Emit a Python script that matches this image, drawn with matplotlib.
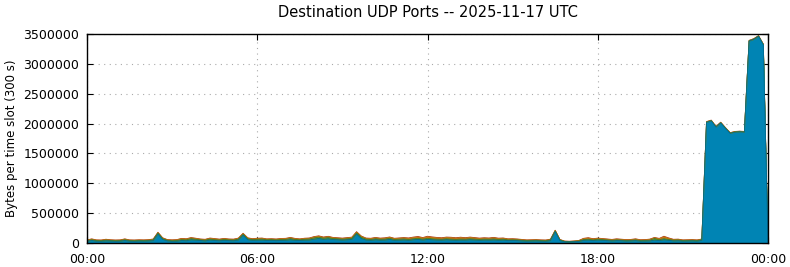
import matplotlib
matplotlib.use("Agg")
import matplotlib.pyplot as plt
import numpy as np

# bytes per slot in thousands, 10 minute slots from 00:00, last value at 24:00
blue = [30, 42, 30, 28, 36, 32, 28, 30, 42, 30, 28, 32,
        30, 34, 40, 150, 60, 35,
        28, 30, 42, 38, 55, 48,
        40, 35, 50, 42, 38, 45,
        40, 38, 50, 130, 55, 45,
        48, 50, 42, 45, 40, 44,
        46, 55, 45, 42, 48, 50,
        65, 75, 62, 70, 58, 55,
        50, 55, 60, 150, 75, 50,
        45, 55, 48, 50, 60, 45,
        48, 52, 45, 55, 60, 50,
        60, 55, 50, 48, 55, 50,
        45, 50, 48, 55, 50, 45,
        50, 48, 52, 45, 50, 40,
        42, 40, 35, 30, 32, 35,
        30, 28, 40, 190, 40, 20,
        18, 22, 25, 45, 50, 40,
        50, 45, 40, 35, 40, 38,
        32, 35, 40, 30, 32, 35,
        50, 40, 55, 45, 35, 38,
        30, 32, 35, 30, 45,
        2020, 2045, 1940, 2010, 1920, 1835, 1855, 1860, 1855,
        3380, 3410, 3460, 3320,
        0]
green = [10, 12, 10, 10, 12, 10, 10, 10, 12, 10, 10, 10,
         10, 10, 12, 15, 12, 10,
         10, 12, 15, 15, 18, 15,
         12, 12, 15, 14, 12, 14,
         12, 12, 14, 15, 14, 12,
         14, 15, 12, 12, 12, 14,
         14, 18, 14, 12, 14, 16,
         20, 22, 18, 20, 16, 15,
         14, 15, 16, 18, 20, 15,
         14, 16, 14, 15, 18, 14,
         15, 16, 14, 16, 18, 15,
         18, 16, 15, 14, 16, 15,
         15, 16, 15, 16, 15, 14,
         15, 14, 16, 14, 14, 12,
         12, 12, 10, 10, 10, 10,
         10, 10, 12, 12, 10, 6,
         5, 6, 8, 12, 14, 12,
         14, 12, 12, 10, 12, 10,
         10, 10, 12, 10, 10, 12,
         25, 14, 18, 14, 12, 12,
         10, 10, 10, 10, 10,
         5, 5, 5, 5, 5, 5, 5, 5, 5,
         5, 5, 5, 5,
         0]
orange = [8, 10, 8, 8, 10, 8, 8, 8, 10, 8, 8, 8,
          8, 8, 10, 10, 10, 8,
          10, 10, 14, 12, 12, 12,
          10, 10, 12, 12, 10, 12,
          10, 10, 12, 12, 12, 10,
          12, 12, 10, 10, 10, 12,
          12, 14, 12, 10, 12, 12,
          15, 16, 14, 15, 14, 12,
          12, 14, 15, 15, 15, 12,
          14, 15, 14, 15, 16, 14,
          15, 16, 18, 20, 22, 18,
          25, 22, 20, 18, 20, 22,
          20, 22, 18, 20, 18, 16,
          16, 15, 18, 15, 14, 12,
          12, 10, 10, 8, 8, 8,
          8, 8, 8, 8, 6, 4,
          4, 4, 6, 15, 18, 14,
          12, 12, 10, 10, 12, 10,
          10, 10, 12, 10, 10, 12,
          12, 16, 30, 18, 10, 10,
          8, 8, 8, 8, 8,
          5, 5, 5, 5, 5, 5, 5, 5, 5,
          5, 5, 5, 5,
          0]
red = [4, 5, 4, 4, 5, 4, 4, 4, 5, 4, 4, 4,
       4, 4, 5, 5, 5, 4,
       5, 5, 6, 6, 6, 5,
       5, 5, 6, 6, 5, 6,
       5, 5, 6, 6, 6, 5,
       6, 6, 5, 5, 5, 6,
       6, 6, 6, 5, 6, 6,
       7, 7, 6, 7, 6, 6,
       6, 6, 7, 7, 7, 6,
       6, 7, 6, 7, 7, 6,
       7, 7, 8, 8, 9, 8,
       10, 9, 8, 8, 8, 9,
       8, 9, 8, 8, 8, 7,
       7, 7, 8, 7, 6, 6,
       6, 5, 5, 4, 4, 4,
       4, 4, 4, 4, 3, 2,
       2, 2, 3, 6, 7, 6,
       6, 6, 5, 5, 6, 5,
       5, 5, 6, 5, 5, 6,
       6, 7, 10, 8, 5, 5,
       4, 4, 4, 4, 4,
       3, 3, 3, 3, 3, 3, 3, 3, 3,
       3, 3, 3, 3,
       0]

slot_minutes = 10
hours = np.arange(len(blue)) * slot_minutes / 60.0

layers = [blue, green, orange, red]
colors = ["#0084b4", "#4f9a2c", "#e08a10", "#c8401c"]
edges = ["#006a92", "#3d7f20", "#c07408", "#a83010"]

fig = plt.figure(figsize=(7.9, 2.67), dpi=100)
ax = fig.add_axes([87 / 790, 1 - 243 / 267, 681 / 790, 209 / 267])

base = np.zeros(len(hours))
tops = []
for vals in layers:
    base = base + np.array(vals) * 1000.0
    tops.append(base.copy())
# draw top layers first so the blue base sits in front
for hi, c, e in reversed(list(zip(tops, colors, edges))):
    ax.fill_between(hours, 0, hi, color=c, linewidth=0, zorder=2)
    ax.plot(hours, hi, color=e, linewidth=0.6, zorder=2)

ax.set_xlim(0, 24)
ax.set_ylim(0, 3500000)
ax.set_xticks([0, 6, 12, 18, 24])
ax.set_xticklabels(["00:00", "06:00", "12:00", "18:00", "00:00"])
ax.set_yticks(np.arange(0, 3500001, 500000))
ax.set_yticklabels([str(v) for v in range(0, 3500001, 500000)])
ax.tick_params(direction="in", top=True, right=True, length=4, labelsize=9)
ax.tick_params(axis="x", pad=7)
ax.tick_params(axis="y", pad=5.5)
ax.grid(True, color="#aaaaaa", linestyle=(0, (1, 4)), linewidth=0.8, zorder=1)
ax.set_axisbelow(True)
for s in ax.spines.values():
    s.set_linewidth(1.0)
    s.set_zorder(3)

ax.set_ylabel("Bytes per time slot (300 s)", fontsize=8.5)
ax.yaxis.set_label_coords(-0.102, 0.5)
ax.set_title("Destination UDP Ports -- 2025-11-17 UTC", fontsize=10.5, pad=12.5)

fig.savefig("out.png", dpi=100)
